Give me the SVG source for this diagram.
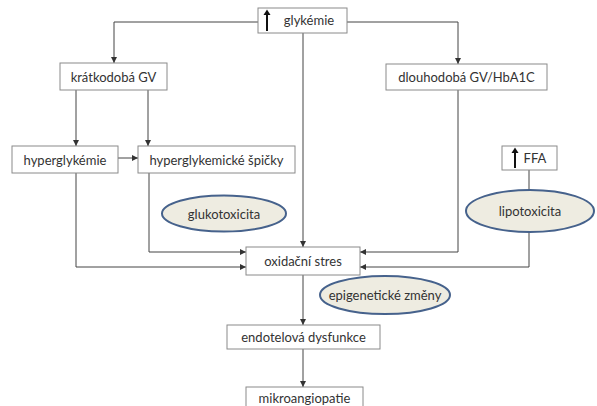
<svg xmlns="http://www.w3.org/2000/svg" width="597" height="406" viewBox="0 0 597 406">
<defs>
<marker id="ah" viewBox="0 0 6 6" refX="6" refY="3" markerWidth="6" markerHeight="6" markerUnits="userSpaceOnUse" orient="auto">
<path d="M0,0 L6,3 L0,6 z" fill="#333"/>
</marker>
<style>
.box{fill:#fff;stroke:#8a8a8a;stroke-width:1}
.ell{fill:#eeece1;stroke:#46628c;stroke-width:2}
.t{font-family:Lato,"Open Sans",sans-serif;font-size:13px;fill:#333;text-anchor:middle;dominant-baseline:central}
.c{fill:none;stroke:#444;stroke-width:1}
.ua{stroke:#111;stroke-width:2}
</style>
</defs>
<rect width="597" height="406" fill="#fff"/>
<g id="connectors">
<path class="c" d="M258,22 H114 V63" marker-end="url(#ah)"/>
<path class="c" d="M347,22 H458 V64" marker-end="url(#ah)"/>
<path class="c" d="M303,33 V247" marker-end="url(#ah)"/>
<path class="c" d="M76,90 V146" marker-end="url(#ah)"/>
<path class="c" d="M148,90 V146" marker-end="url(#ah)"/>
<path class="c" d="M118,158 H138" marker-end="url(#ah)"/>
<path class="c" d="M149,173 V252 H246" marker-end="url(#ah)"/>
<path class="c" d="M76,173 V267 H246" marker-end="url(#ah)"/>
<path class="c" d="M458,90 V252 H360" marker-end="url(#ah)"/>
<path class="c" d="M529,170 V191"/>
<path class="c" d="M529,232 V267 H360" marker-end="url(#ah)"/>
<path class="c" d="M303,275 V325" marker-end="url(#ah)"/>
<path class="c" d="M303,349 V387" marker-end="url(#ah)"/>
</g>
<g id="glykemie">
<rect class="box" x="258" y="8" width="89" height="25"/>
<line class="ua" x1="267" y1="31" x2="267" y2="14"/>
<path d="M263.5,15 L267,9.5 L270.5,15 z" fill="#111"/>
<text class="t" x="309" y="20">glykémie</text>
</g>
<g id="kratkodoba">
<rect class="box" x="60" y="63" width="107" height="27"/>
<text class="t" x="113.5" y="76.5">krátkodobá GV</text>
</g>
<g id="dlouhodoba">
<rect class="box" x="386" y="64" width="161" height="26"/>
<text class="t" x="466.5" y="77">dlouhodobá GV/HbA1C</text>
</g>
<g id="hyperglykemie">
<rect class="box" x="12" y="146" width="106" height="27"/>
<text class="t" x="65" y="159.5">hyperglykémie</text>
</g>
<g id="spicky">
<rect class="box" x="138" y="146" width="157" height="27"/>
<text class="t" x="216.5" y="159.5">hyperglykemické špičky</text>
</g>
<g id="ffa">
<rect class="box" x="502" y="146" width="55" height="24"/>
<line class="ua" x1="515" y1="168" x2="515" y2="152"/>
<path d="M511.5,153 L515,147.5 L518.5,153 z" fill="#111"/>
<text class="t" x="535" y="158">FFA</text>
</g>
<g id="glukotoxicita">
<ellipse class="ell" cx="224" cy="213.5" rx="62" ry="18"/>
<text class="t" x="224" y="213.5">glukotoxicita</text>
</g>
<g id="lipotoxicita">
<ellipse class="ell" cx="530" cy="211" rx="64" ry="21"/>
<text class="t" x="530" y="211">lipotoxicita</text>
</g>
<g id="oxidacni">
<rect class="box" x="246" y="247" width="114" height="28"/>
<text class="t" x="303" y="261">oxidační stres</text>
</g>
<g id="epigeneticke">
<ellipse class="ell" cx="385" cy="295" rx="65" ry="19"/>
<text class="t" x="385" y="295">epigenetické změny</text>
</g>
<g id="endotelova">
<rect class="box" x="227" y="325" width="153" height="24"/>
<text class="t" x="303.5" y="337">endotelová dysfunkce</text>
</g>
<g id="mikroangiopatie">
<rect class="box" x="246" y="387" width="117" height="24"/>
<text class="t" x="304.5" y="398">mikroangiopatie</text>
</g>
</svg>
